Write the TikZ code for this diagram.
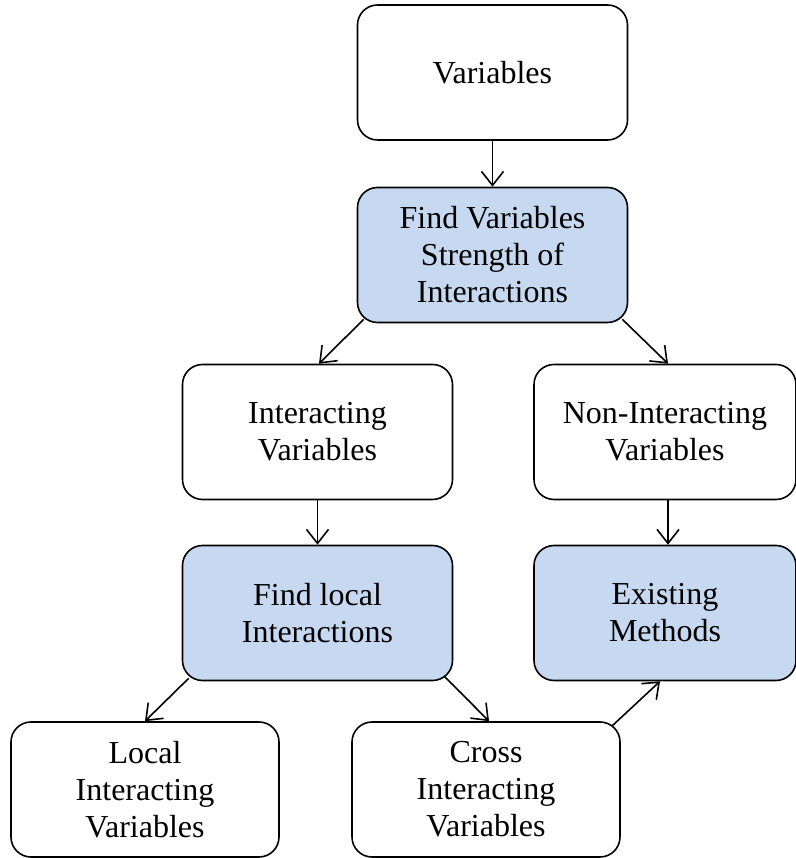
\documentclass[tikz,border=0pt]{standalone}
\usepackage{fontspec}
\setmainfont{Liberation Serif}
\usetikzlibrary{arrows.meta}
\definecolor{boxblue}{HTML}{C6D9F0}
\begin{document}
\begin{tikzpicture}[x=1pt,y=1pt,
  box/.style={draw=black, line width=1.6pt, rounded corners=20pt,
    minimum width=270pt, minimum height=135pt, align=center,
    font=\fontsize{32}{37}\selectfont, inner sep=0pt},
  wide/.style={minimum width=262pt},
  blue/.style={fill=boxblue},
  arr/.style={line width=1.6pt, -{Straight Barb[length=14pt,width=22pt,line width=1.6pt]}}]
\useasboundingbox (0,0) rectangle (795,858);

\node[box] (var) at (492.5,785.5) {Variables};
\node[box,blue] (find) at (492.5,603) {Find Variables\\Strength of\\Interactions};
\node[box] (inter) at (317.5,426) {Interacting\\Variables};
\node[box,wide] (non) at (665,426) {Non-Interacting\\Variables};
\node[box,blue] (loc) at (317.5,245) {Find local\\Interactions};
\node[box,wide,blue] (exist) at (665,245) {Existing\\Methods};
\node[box,minimum width=268pt] (lvar) at (145,68.5) {Local\\Interacting\\Variables};
\node[box,minimum width=268pt] (cvar) at (486,68.5) {Cross\\Interacting\\Variables};

\draw[arr] (var.south) -- (find.north);
\draw[arr] ([shift={(7,4)}]find.south west) -- ([xshift=1.5pt]inter.north);
\draw[arr] ([shift={(-6,4)}]find.south east) -- ([xshift=3pt]non.north);
\draw[arr] (inter.south) -- (loc.north);
\draw[arr] ([xshift=3pt]non.south) -- ([xshift=3pt]exist.north);
\draw[arr] ([shift={(7,3)}]loc.south west) -- ([xshift=0pt]lvar.north);
\draw[arr] ([shift={(-9,5)}]loc.south east) -- ([xshift=3pt]cvar.north);
\draw[arr] ([shift={(-9,-5)}]cvar.north east) -- ([xshift=-5pt]exist.south);
\end{tikzpicture}
\end{document}
